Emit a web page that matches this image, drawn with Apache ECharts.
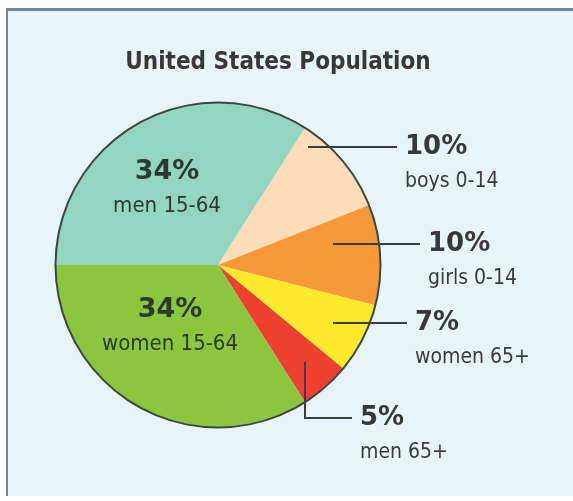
<!DOCTYPE html>
<html>
<head>
<meta charset="utf-8">
<title>United States Population</title>
<script src="https://cdn.jsdelivr.net/npm/echarts@6/dist/echarts.min.js"></script>
<style>
  html, body { margin: 0; padding: 0; background: #fff; }
  #frame {
    position: absolute; left: 6px; top: 8px; width: 567px; height: 488px;
    background: #e7f5fb; border-left: 2px solid #73859a; border-top: 3px solid #73859a;
    box-sizing: border-box;
  }
  #chart { position: absolute; left: 0; top: 0; width: 573px; height: 501px; }
</style>
</head>
<body>
<div id="frame"></div>
<div id="chart"></div>
<script>
// data, clockwise from 9 o'clock
const categories = ['men 15-64', 'boys 0-14', 'girls 0-14', 'women 65+', 'men 65+', 'women 15-64']
const shares     = [34, 10, 10, 7, 5, 34]
const colors     = ['#94d5c2', '#fcdcba', '#f7993b', '#fbea2d', '#ef412f', '#8cc63f']

const CX = 218, CY = 265, R = 162
const NARROW = "'Liberation Sans Narrow', 'DejaVu Sans Condensed', sans-serif"
const P_LH = 32

// where each label sits, relative to the pie centre
const LABEL_POS = [
  { inside: true, dx: -51, dy: -93 },
  { anchor: [90, -118], end: 179 },
  { anchor: [115, -21], end: 202 },
  { anchor: [115, 58], end: 189 },
  { anchor: [87, 97], elbow: 153, end: 134 },
  { inside: true, dx: -48, dy: 45 },
]

const pieData = categories.map((name, i) => ({ name, value: shares[i] }))

const chart = echarts.init(document.getElementById('chart'), null, { renderer: 'canvas' })

chart.setOption({
  animation: false,
  backgroundColor: 'transparent',
  title: {
    text: 'United States Population',
    left: 278,
    textAlign: 'center',
    top: 51,
    padding: 0,
    textStyle: { fontFamily: NARROW, fontWeight: 'bold', fontSize: 24, color: '#383838' },
  },
  series: [
    {
      type: 'pie',
      center: [CX, CY],
      radius: [0, R],
      startAngle: 180,
      clockwise: true,
      silent: true,
      label: { show: false },
      labelLine: { show: false },
      itemStyle: { borderWidth: 0, color: p => colors[p.dataIndex] },
      data: pieData,
    },
    {
      // dark rim round the pie
      type: 'pie',
      center: [CX, CY],
      radius: [R - 0.5, R + 1.5],
      silent: true,
      label: { show: false },
      labelLine: { show: false },
      itemStyle: { color: '#3b4840' },
      data: [{ name: 'rim', value: 1 }],
    },
    {
      // labels and leader lines, drawn over the slices
      type: 'pie',
      z: 5,
      center: [CX, CY],
      radius: [0, R],
      startAngle: 180,
      clockwise: true,
      avoidLabelOverlap: false,
      silent: true,
      itemStyle: { color: 'rgba(0,0,0,0)', borderWidth: 0 },
      data: pieData.map((d, i) => ({
        ...d,
        label: LABEL_POS[i].inside ? { position: 'inside' } : undefined,
        labelLine: { show: !LABEL_POS[i].inside },
      })),
      label: {
        show: true,
        position: 'outside',
        formatter: p => LABEL_POS[p.dataIndex].inside
          ? `{pi|${p.value}%}\n{ni|${p.name}}`
          : `{p|${p.value}%}\n{n|${p.name}}`,
        rich: {
          p:  { fontFamily: 'DejaVu Sans', fontWeight: 'bold', fontSize: 26, color: '#383838', lineHeight: P_LH },
          n:  { fontFamily: NARROW, fontSize: 21, color: '#3b3b3b', lineHeight: 38 },
          pi: { fontFamily: 'DejaVu Sans', fontWeight: 'bold', fontSize: 27, color: '#2c3a31', lineHeight: P_LH, align: 'center' },
          ni: { fontFamily: NARROW, fontSize: 22, color: '#2c3a31', lineHeight: 36, align: 'center' },
        },
      },
      labelLine: { show: true, lineStyle: { color: '#3d3d3d', width: 2 } },
      labelLayout: params => {
        const L = LABEL_POS[params.dataIndex]
        if (L.inside) {
          return { x: CX + L.dx, y: CY + L.dy - P_LH / 2, align: 'center', verticalAlign: 'top' }
        }
        const ax = CX + L.anchor[0], ay = CY + L.anchor[1]
        const ly = L.elbow != null ? CY + L.elbow : ay
        const ex = CX + L.end
        const pts = L.elbow != null
          ? [[ax, ay], [ax, ly], [ex, ly]]
          : [[ax, ay], [(ax + ex) / 2, ly], [ex, ly]]
        return { x: ex + 8, y: ly - P_LH / 2, align: 'left', verticalAlign: 'top', labelLinePoints: pts }
      },
    },
  ],
})

window.addEventListener('resize', () => chart.resize())
</script>
</body>
</html>
